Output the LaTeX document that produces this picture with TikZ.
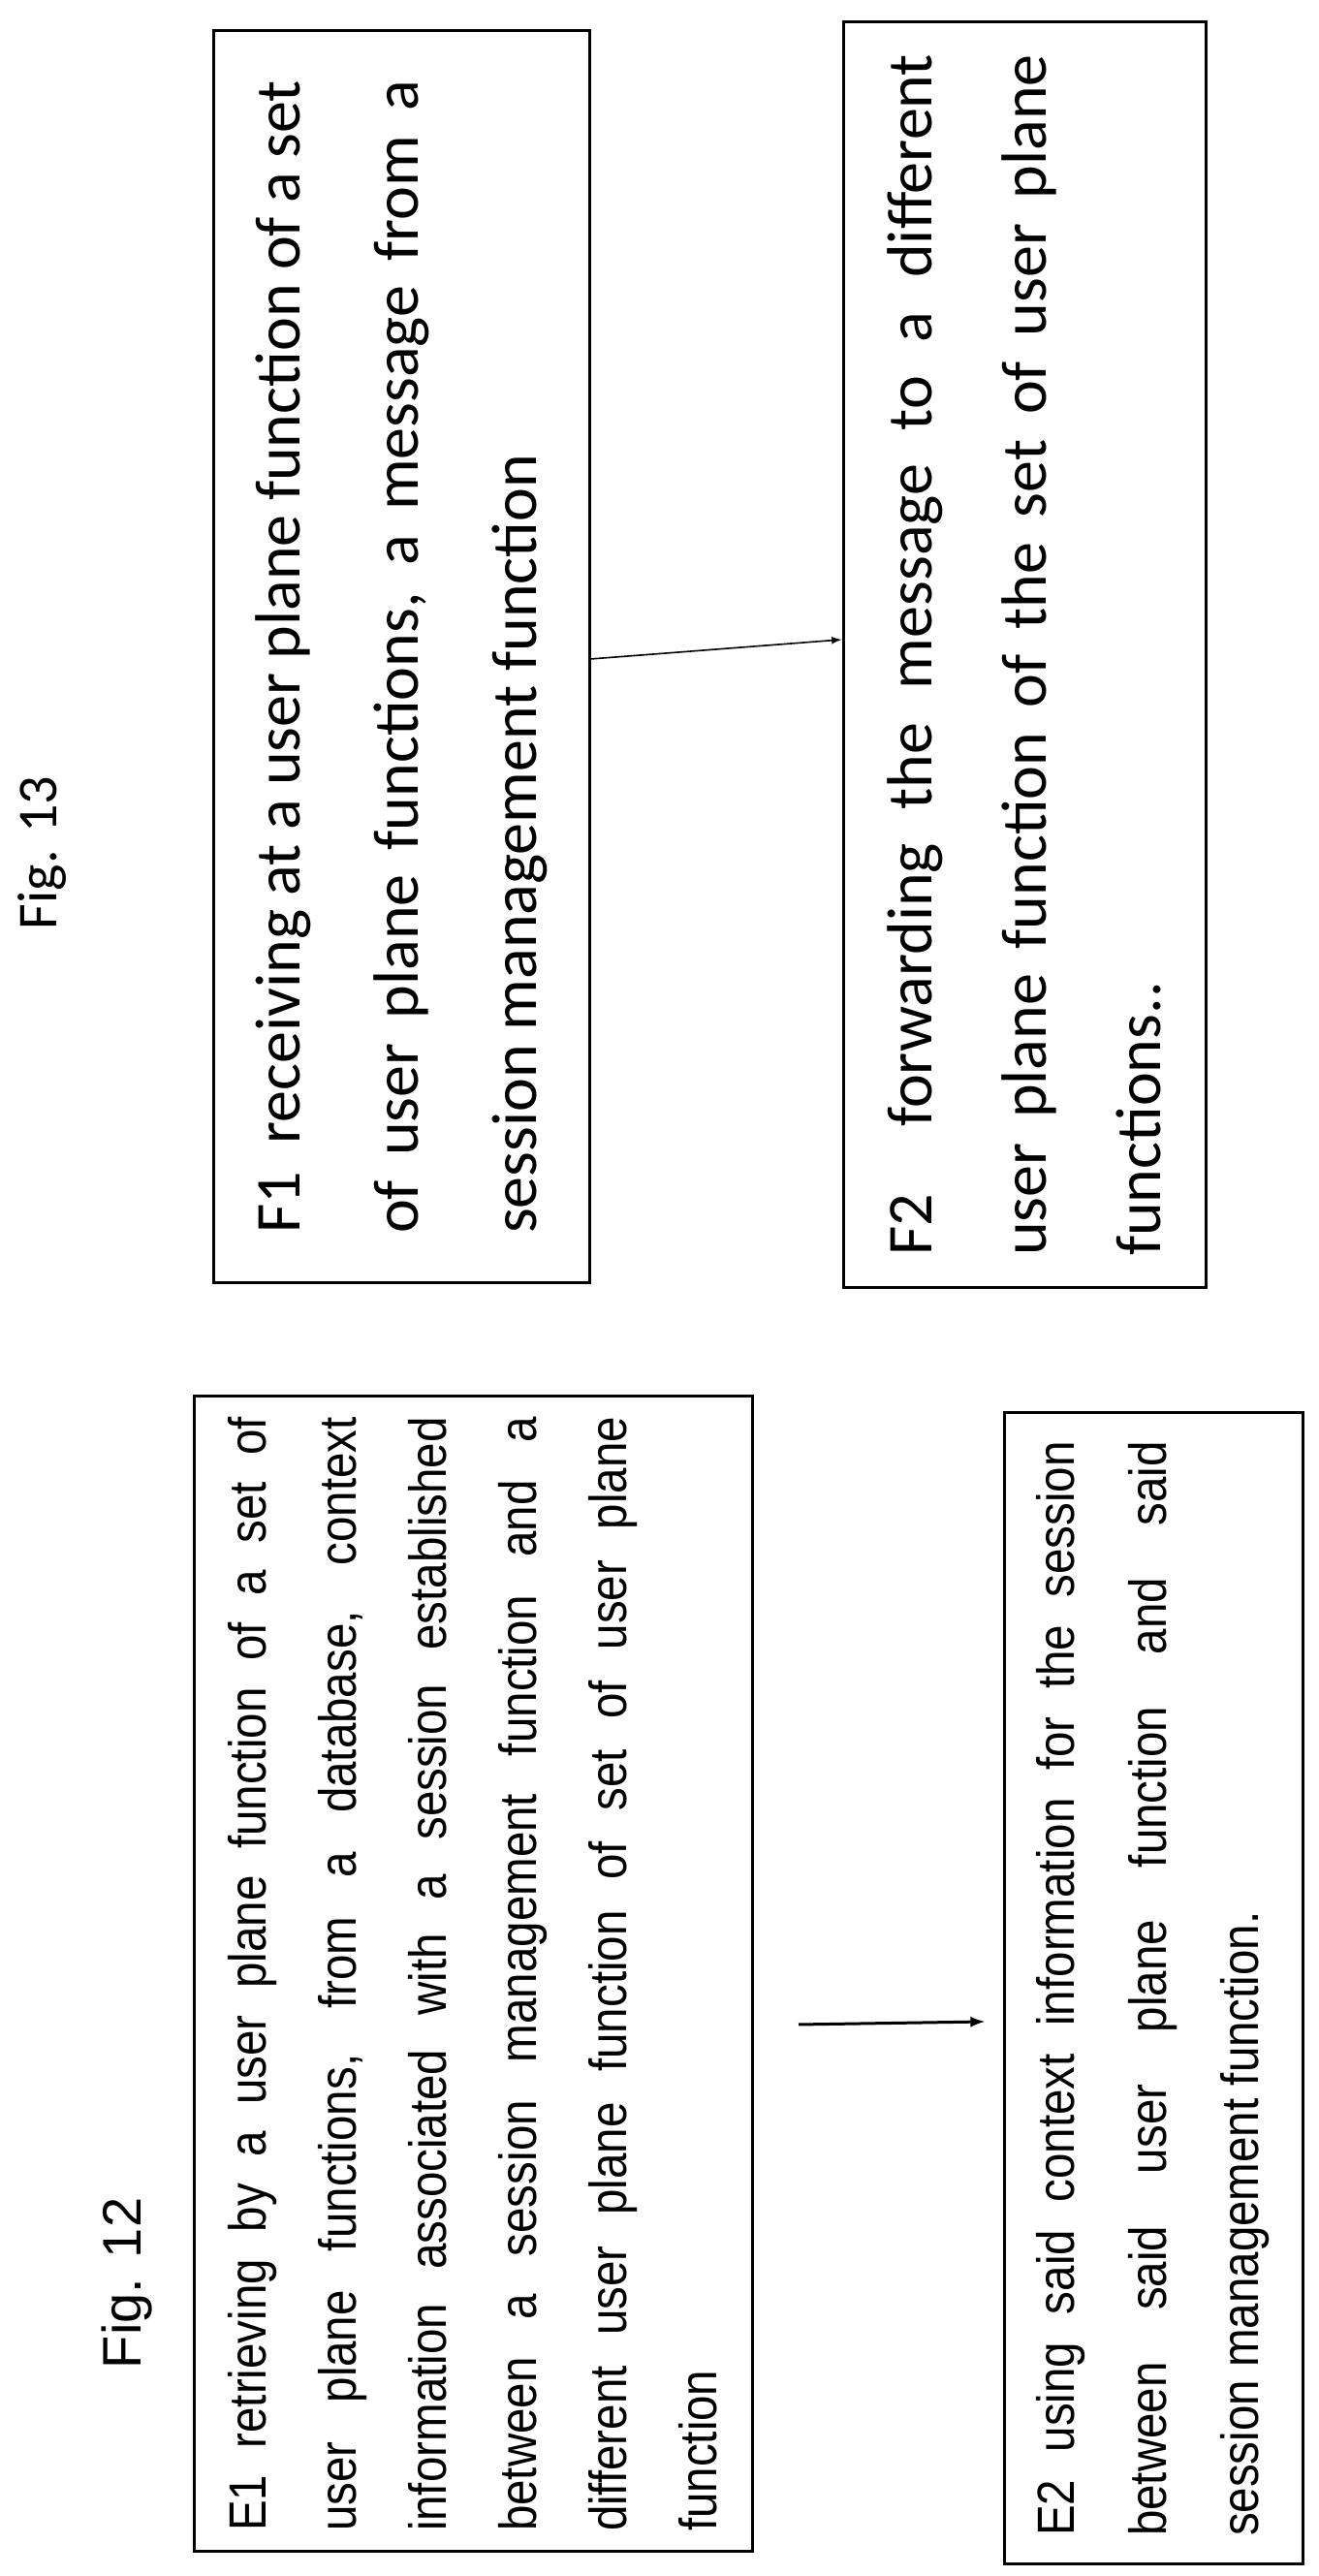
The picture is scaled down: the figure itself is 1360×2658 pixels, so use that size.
\documentclass[tikz,border=0pt]{standalone}
\usepackage{fontspec}
\setmainfont{Liberation Sans}
\newfontfamily\calfont{Carlito}
\newfontfamily\narrowfont[FakeStretch=0.88]{Liberation Sans}
\begin{document}
\begin{tikzpicture}[x=0.5pt,y=0.5pt,
	stepbox/.style={draw, line width=1.5pt, rotate=90, align=justify, inner sep=0pt},
	figlabel/.style={rotate=90, inner sep=0pt}]
	\useasboundingbox (0,0) rectangle (1360,2658);
	% Fig. 13
	\node[figlabel, font=\calfont\fontsize{29}{32}\selectfont] (fig13) at (44,1778) {Fig. 13};
	\node[stepbox, text width=595pt, minimum width=646pt, minimum height=194pt,
		font=\calfont\fontsize{33}{61}\selectfont] (f1) at (414,1980)
		{F1\ \ receiving at a user plane function of a set\linebreak
		of user plane functions, a message from a\linebreak
		session management function};
	\node[stepbox, text width=620pt, minimum width=653pt, minimum height=187pt,
		font=\calfont\fontsize{33}{59}\selectfont] (f2) at (1057,1982)
		{F2\ \ forwarding the message to a different\linebreak
		user plane function of the set of user plane\linebreak
		functions..};
	\draw[-latex, line width=0.8pt] ([yshift=-1pt]f1.south) -- ([yshift=8pt]f2.north);
	% Fig. 12
	\node[figlabel, font=\fontsize{28}{32}\selectfont] (fig12) at (131,302) {Fig. 12};
	\node[stepbox, text width=575pt, minimum width=596pt, minimum height=288pt,
		font=\narrowfont\fontsize{27}{46.5}\selectfont] (e1) at (488,621)
		{E1 retrieving by a user plane function of a set of\linebreak
		user plane functions, from a database, context\linebreak
		information associated with a session established\linebreak
		between a session management function and a\linebreak
		different user plane function of set of user plane\linebreak
		function};
	\node[stepbox, text width=565pt, minimum width=594pt, minimum height=154pt,
		font=\narrowfont\fontsize{27}{47.5}\selectfont] (e2) at (1190,606)
		{E2 using said context information for the session\linebreak
		between said user plane function and said\linebreak
		session management function.};
	\coordinate (e1tail) at (824,569);
	\coordinate (e2head) at (1016,572);
	\draw[-latex, line width=1.5pt] (e1tail) -- (e2head);
\end{tikzpicture}
\end{document}
